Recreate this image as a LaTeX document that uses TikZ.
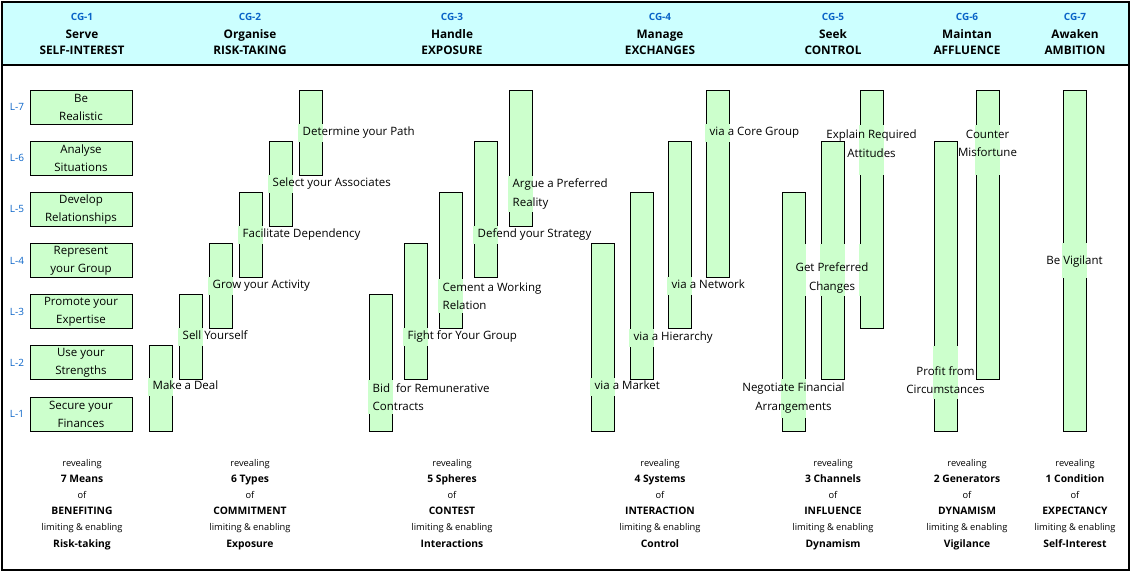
\documentclass[tikz,border=0pt]{standalone}
\usepackage{fontspec}
\setmainfont{Open Sans}
\usetikzlibrary{calc}
\definecolor{barfill}{HTML}{CCFFCC}
\definecolor{hdrfill}{HTML}{CCFFFF}
\definecolor{cgblue}{HTML}{0A64C8}
\pgfdeclarelayer{barlayer}
\pgfsetlayers{barlayer,main}
\newcommand{\mkbar}[4]{%
  \pgfmathsetmacro{\bartop}{397-51.17*(#4-1)}%
  \pgfmathsetmacro{\barbot}{397-51.17*(#3-1)+34}%
  \pgfmathsetmacro{\barhgt}{\barbot-\bartop}%
  \node[barbox,minimum height=\barhgt pt,anchor=north west] (#1) at (#2,\bartop) {};}
\newcommand{\lcover}[2]{%
  \begin{scope}
    \clip ($(#2.west |- #1.north)+(-1,0)$) rectangle (#1.south east);
    \fill[barfill] ($(#2.north west)+(-0.8,0)$) rectangle ($(#2.south east)+(0.8,0)$);
  \end{scope}}
\newcommand{\rcover}[5]{%
  \begin{scope}
    \clip (#1,#2) rectangle (#3,#4);
    \foreach \bn in {#5}{\fill[barfill] ($(\bn.north west)+(-0.8,0)$) rectangle ($(\bn.south east)+(0.8,0)$);}
  \end{scope}}
\begin{document}
\begin{tikzpicture}[x=1pt,y=-1pt,
  barbox/.style={draw,line width=0.9pt,fill=barfill,minimum width=23pt,inner sep=0pt,outer sep=0pt},
  lbox/.style={draw,line width=0.9pt,fill=barfill,minimum width=102pt,minimum height=34pt,inner sep=0pt,align=center,font=\fontsize{11.5}{18}\selectfont},
  lab/.style={font=\fontsize{11.5}{18.5}\selectfont,inner xsep=1pt,inner ysep=2.5pt,align=left},
  labc/.style={lab,align=center},
  lab1/.style={font=\fontsize{11.5}{18.5}\selectfont,inner xsep=1pt,inner ysep=2.5pt,text height=8.6pt,text depth=2.8pt},
  llab/.style={font=\fontsize{10}{11}\selectfont,text=cgblue,inner sep=0pt,text height=7.2pt,text depth=0pt},
  hcg/.style={font=\bfseries\fontsize{10}{11}\selectfont,text=cgblue,inner sep=0pt,text height=7.2pt,text depth=0pt},
  hbold/.style={font=\bfseries\fontsize{11.8}{12}\selectfont,inner sep=0pt,text height=8.4pt,text depth=1.5pt},
  bsmall/.style={font=\fontsize{9.3}{10}\selectfont,inner sep=0pt,text height=6.7pt,text depth=1.5pt},
  bbold/.style={font=\bfseries\fontsize{10.3}{11}\selectfont,inner sep=0pt,text height=7.4pt,text depth=1.5pt}]
\useasboundingbox (0,0) rectangle (1132,573);
\begin{pgfonlayer}{barlayer}
  \fill[hdrfill] (2,2) rectangle (1129,65);
  \mkbar{m1}{149}{1}{2}
  \mkbar{m2}{179}{2}{3}
  \mkbar{m3}{209}{3}{4}
  \mkbar{m4}{239}{4}{5}
  \mkbar{m5}{269}{5}{6}
  \mkbar{m6}{299}{6}{7}
  \mkbar{c1}{369}{1}{3}
  \mkbar{c2}{404}{2}{4}
  \mkbar{c3}{439}{3}{5}
  \mkbar{c4}{474}{4}{6}
  \mkbar{c5}{509}{5}{7}
  \mkbar{x1}{591}{1}{4}
  \mkbar{x2}{630}{2}{5}
  \mkbar{x3}{668}{3}{6}
  \mkbar{x4}{706}{4}{7}
  \mkbar{n1}{782}{1}{5}
  \mkbar{n2}{821}{2}{6}
  \mkbar{n3}{860}{3}{7}
  \mkbar{g1}{934}{1}{6}
  \mkbar{g2}{976}{2}{7}
  \mkbar{v1}{1063}{1}{7}
\end{pgfonlayer}
% header
\foreach \cx/\cg/\va/\vb [count=\i] in {82/CG-1/Serve/SELF-INTEREST, 250/CG-2/Organise/RISK-TAKING, 452/CG-3/Handle/EXPOSURE, 660/CG-4/Manage/EXCHANGES, 833/CG-5/Seek/CONTROL, 967/CG-6/Maintan/AFFLUENCE, 1075/CG-7/Awaken/AMBITION}{
  \node[hcg] (hc\i) at (\cx,17) {\cg};
  \node[hbold] (hv\i) at (\cx,35) {\va};
  \node[hbold] (hn\i) at (\cx,51) {\vb};
}
% level labels and left boxes
\foreach \t [count=\k] in {Secure your\\Finances, Use your\\Strengths, Promote your\\Expertise, Represent\\your Group, Develop\\Relationships, Analyse\\Situations, Be\\Realistic}{
  \pgfmathsetmacro{\rc}{397-51.17*(\k-1)+17}
  \node[llab] (lv\k) at (17,\rc) {L-\k};
  \node[lbox] (s\k) at (81,\rc) {\t};
}
% bar labels
\node[lab1,anchor=west] (lm1) at (151.5,387) {Make a Deal};
\node[lab1,anchor=west] (lm2) at (181.5,337) {Sell Yourself};
\node[lab1,anchor=west] (lm3) at (211.5,286) {Grow your Activity};
\node[lab1,anchor=west] (lm4) at (241.5,235) {Facilitate Dependency};
\node[lab1,anchor=west] (lm5) at (271.5,184) {Select your Associates};
\node[lab1,anchor=west] (lm6) at (301.5,133) {Determine your Path};
\node[lab,anchor=west] (lc1) at (371.5,397) {Bid~~for Remunerative\\Contracts};
\node[lab1,anchor=west] (lc2) at (406.5,337) {Fight for Your Group};
\node[lab,anchor=west] (lc3) at (441.5,296) {Cement a Working\\Relation};
\node[lab1,anchor=west] (lc4) at (476.5,235) {Defend your Strategy};
\node[lab,anchor=west] (lc5) at (511.5,194) {Argue a Preferred\\Reality};
\node[lab1,anchor=west] (lx1) at (593.5,387) {via a Market};
\node[lab1,anchor=west] (lx2) at (632.5,338) {via a Hierarchy};
\node[lab1,anchor=west] (lx3) at (670.5,286) {via a Network};
\node[lab1,anchor=west] (lx4) at (708.5,133) {via a Core Group};
\node[labc] (ln1) at (793.5,398) {Negotiate Financial\\Arrangements};
\node[labc] (ln2) at (832,278) {Get Preferred\\Changes};
\node[labc] (ln3) at (871.5,143.5) {Explain Required\\Attitudes};
\node[labc] (lg1) at (945.5,380) {Profit from\\Circumstances};
\node[labc] (lg2) at (987.5,143.5) {Counter\\Misfortune};
\node[lab1] (lv1b) at (1074.5,262) {Be Vigilant};
% covers hiding bar borders behind labels
\begin{pgfonlayer}{barlayer}
  \lcover{lm1}{m1}\lcover{lm2}{m2}\lcover{lm3}{m3}\lcover{lm4}{m4}\lcover{lm5}{m5}\lcover{lm6}{m6}
  \lcover{lc1}{c1}\lcover{lc2}{c2}\lcover{lc3}{c3}\lcover{lc4}{c4}\lcover{lc5}{c5}
  \lcover{lx1}{x1}\lcover{lx2}{x2}\lcover{lx3}{x3}\lcover{lx4}{x4}
  \rcover{775}{379}{812}{417}{n1}
  \rcover{795}{244}{870}{295}{n1,n2,n3}
  \rcover{855}{125}{890}{174}{n3}
  \rcover{928}{346}{963}{398}{g1}
  \rcover{970}{125}{1005}{174}{g2}
  \rcover{1055}{243}{1095}{277}{v1}
\end{pgfonlayer}
% bottom texts
\foreach \cx/\na/\nb/\nc [count=\i] in {82/7 Means/BENEFITING/Risk-taking, 250/6 Types/COMMITMENT/Exposure, 452/5 Spheres/CONTEST/Interactions, 660/4 Systems/INTERACTION/Control, 833/3 Channels/INFLUENCE/Dynamism, 967/2 Generators/DYNAMISM/Vigilance, 1075/1 Condition/EXPECTANCY/Self-Interest}{
  \node[bsmall] (r\i) at (\cx,464) {revealing};
  \node[bbold] (q\i) at (\cx,480) {\na};
  \node[bsmall] (o\i) at (\cx,496) {of};
  \node[bbold] (w\i) at (\cx,512) {\nb};
  \node[bsmall] (e\i) at (\cx,528) {limiting \& enabling};
  \node[bbold] (t\i) at (\cx,545) {\nc};
}
% frame
\draw[line width=1.5pt] (2,65) -- (1129,65);
\draw[line width=2pt] (2,2) rectangle (1129,570);
\end{tikzpicture}
\end{document}
